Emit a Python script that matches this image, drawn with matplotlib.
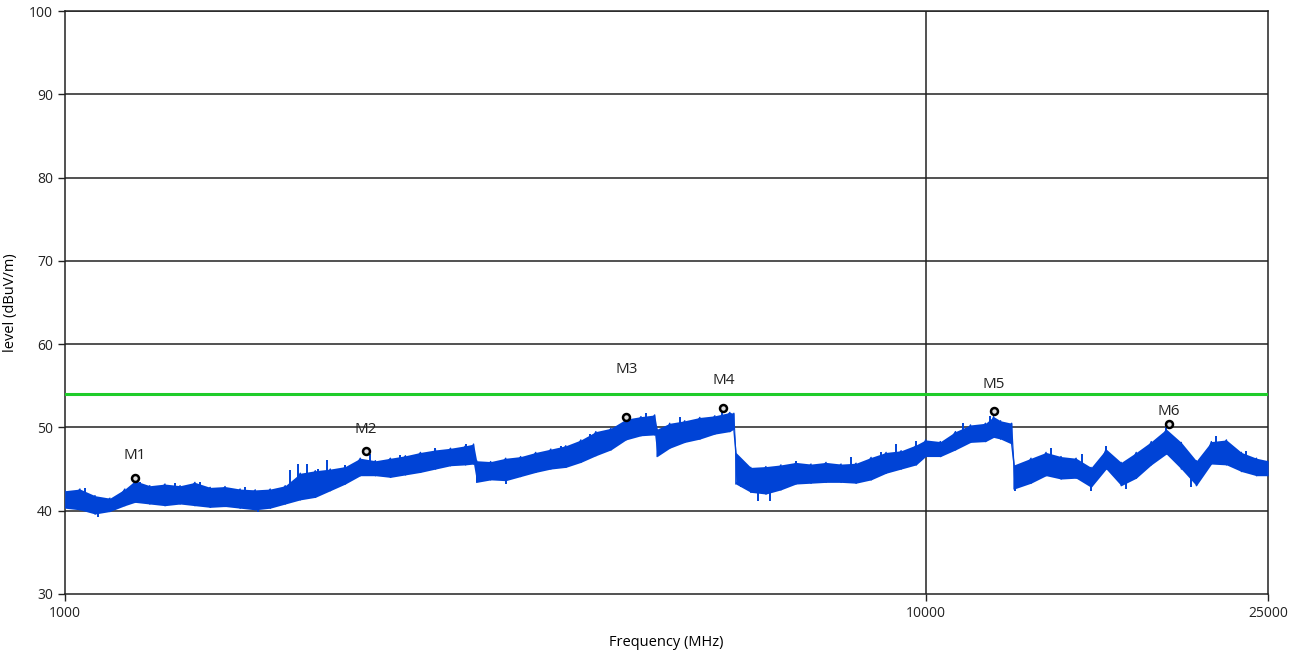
import matplotlib
matplotlib.use("Agg")
import matplotlib.pyplot as plt
import numpy as np

# trace envelope (MHz, upper / lower level in dBuV/m)
freq_mhz = [1000, 1041, 1084, 1128, 1174, 1206, 1255, 1307, 1361, 1416,
            1475, 1535, 1598, 1664, 1732, 1803, 1877, 1954, 2034, 2117,
            2204, 2295, 2389, 2487, 2589, 2695, 2806, 2921, 2984, 3009,
            3124, 3252, 3385, 3524, 3669, 3819, 3976, 4139, 4309, 4486,
            4670, 4844, 4876, 5043, 5250, 5466, 5690, 5923, 5987, 6019,
            6265, 6523, 6790, 7069, 7359, 7661, 7975, 8302, 8643, 8997,
            9366, 9751, 10000, 10405, 10832, 11277, 11739, 11994, 12221, 12589,
            12669, 13257, 13801, 14367, 14957, 15570, 16209, 16874, 17567, 18288,
            19038, 19819, 20633, 21479, 22361, 23278, 24234, 25000]
level_hi = [42.4, 42.6, 41.8, 41.5, 42.6, 43.6, 43.0, 43.2, 43.0, 43.4,
            42.8, 42.9, 42.6, 42.5, 42.6, 43.0, 44.5, 44.8, 45.0, 45.3,
            46.3, 46.0, 46.3, 46.6, 47.0, 47.3, 47.5, 47.8, 48.0, 46.0,
            45.9, 46.3, 46.5, 47.0, 47.4, 47.8, 48.5, 49.5, 49.9, 51.0,
            51.3, 51.5, 49.8, 50.5, 50.8, 51.2, 51.4, 51.8, 51.7, 47.0,
            45.2, 45.3, 45.5, 45.8, 45.6, 45.8, 45.6, 45.7, 46.4, 47.0,
            47.2, 47.9, 48.5, 48.3, 49.5, 50.3, 50.5, 51.3, 50.8, 50.5,
            45.5, 46.3, 47.0, 46.5, 46.3, 45.2, 47.4, 45.8, 47.0, 48.3,
            49.8, 48.2, 46.0, 48.3, 48.5, 47.0, 46.3, 46.0]
level_lo = [40.3, 40.1, 39.6, 39.9, 40.6, 41.0, 40.8, 40.6, 40.8, 40.6,
            40.4, 40.5, 40.3, 40.1, 40.3, 40.8, 41.3, 41.6, 42.4, 43.2,
            44.2, 44.2, 44.0, 44.3, 44.6, 45.0, 45.4, 45.5, 45.6, 43.4,
            43.7, 43.6, 44.1, 44.6, 45.0, 45.2, 45.8, 46.6, 47.3, 48.5,
            49.0, 49.1, 46.5, 47.5, 48.2, 48.6, 49.2, 49.5, 49.8, 43.2,
            42.2, 42.0, 42.5, 43.2, 43.3, 43.4, 43.4, 43.3, 43.7, 44.5,
            45.0, 45.5, 46.5, 46.5, 47.3, 48.2, 48.3, 48.8, 48.6, 48.0,
            42.6, 43.3, 44.2, 43.8, 43.9, 42.8, 45.0, 43.0, 43.9, 45.5,
            46.8, 45.0, 43.0, 45.6, 45.5, 44.7, 44.2, 44.2]

# isolated spikes / dips that stick out of the band
spike_freq = [1055, 1093, 1222, 1343, 1436, 1619, 1676, 1826, 1866, 1911,
              1970, 2015, 2117, 2261, 2452, 2695, 2921, 3252, 3770, 4074,
              4545, 4738, 5180, 5806, 6106, 6379, 6603, 7069, 8190, 8880,
              9238, 9751, 11040, 11875, 12700, 13980, 15180, 15570, 16209, 17090,
              19038, 20360, 21770, 23580]
spike_from = [41.5, 40.8, 42.0, 42.0, 42.0, 41.5, 41.2, 42.0, 42.5, 43.0,
              43.2, 43.5, 44.2, 45.0, 45.3, 46.0, 46.5, 45.0, 46.5, 48.0,
              49.5, 50.0, 49.5, 50.5, 44.5, 43.5, 43.5, 44.5, 44.5, 45.5,
              46.0, 46.5, 48.5, 49.5, 44.0, 45.5, 45.0, 44.0, 46.0, 44.0,
              48.0, 44.5, 47.0, 45.8]
spike_to = [42.7, 39.3, 43.4, 43.3, 43.4, 42.9, 39.9, 44.9, 45.6, 45.6,
            45.0, 46.1, 45.5, 46.8, 46.7, 47.5, 48.0, 43.2, 47.8, 49.2,
            51.0, 51.7, 51.3, 51.9, 42.8, 41.2, 41.2, 46.0, 46.4, 47.1,
            48.0, 48.4, 50.5, 51.4, 42.4, 47.5, 46.8, 42.4, 47.8, 42.6,
            50.0, 42.8, 49.0, 47.2]

limit_level = 54.0

marker_names = ["M1", "M2", "M3", "M4", "M5", "M6"]
marker_freq = [1206, 2239, 4490, 5823, 12000, 19170]
marker_level = [43.9, 47.2, 51.2, 52.3, 52.0, 50.4]
label_level = [46.6, 49.8, 57.0, 55.6, 55.2, 51.9]

x_ticks = [1000, 10000, 25000]
y_ticks = [30, 40, 50, 60, 70, 80, 90, 100]

trace_color = "#0043d6"

plt.rcParams["font.family"] = ["Open Sans", "DejaVu Sans"]
fig = plt.figure(figsize=(12.98, 6.57), dpi=100)
ax = fig.add_axes([0.050, 0.096, 0.927, 0.887])

# zigzag between upper and lower envelope to mimic the noisy sweep
zz_f = np.repeat(freq_mhz, 2)
zz_l = np.column_stack([level_hi, level_lo]).ravel()
ax.fill_between(freq_mhz, level_lo, level_hi, color=trace_color, lw=0, zorder=3)
ax.plot(zz_f, zz_l, color=trace_color, lw=1.0, zorder=3)
ax.vlines(spike_freq, spike_from, spike_to, color=trace_color, lw=1.4, zorder=3)

ax.axhline(limit_level, color="#1fcc2a", lw=2.2, zorder=4)

ax.plot(marker_freq, marker_level, "o", ms=5, mfc="#dddddd", mec="black",
        mew=1.8, zorder=5, ls="none")
for name, f, lv in zip(marker_names, marker_freq, label_level):
    ax.text(f, lv, name, ha="center", va="center", fontsize=11, color="#222222")

ax.set_xscale("log")
ax.set_xlim(1000, 25000)
ax.set_ylim(30, 100)
ax.set_xticks(x_ticks)
ax.set_xticklabels([str(t) for t in x_ticks])
ax.xaxis.set_minor_locator(matplotlib.ticker.NullLocator())
ax.set_yticks(y_ticks)

for y in y_ticks[1:]:
    ax.axhline(y, color="#222222", lw=1.1, zorder=1)
ax.axvline(10000, color="#222222", lw=1.1, zorder=1)

for s in ax.spines.values():
    s.set_color("#222222")
    s.set_linewidth(1.1)

ax.tick_params(axis="both", labelsize=10, colors="#222222", length=5, width=1)
ax.set_xlabel("Frequency (MHz)", fontsize=10.5, labelpad=10)
ax.set_ylabel("level (dBuV/m)", fontsize=10.5, labelpad=8)

fig.savefig("out.png", dpi=100)
